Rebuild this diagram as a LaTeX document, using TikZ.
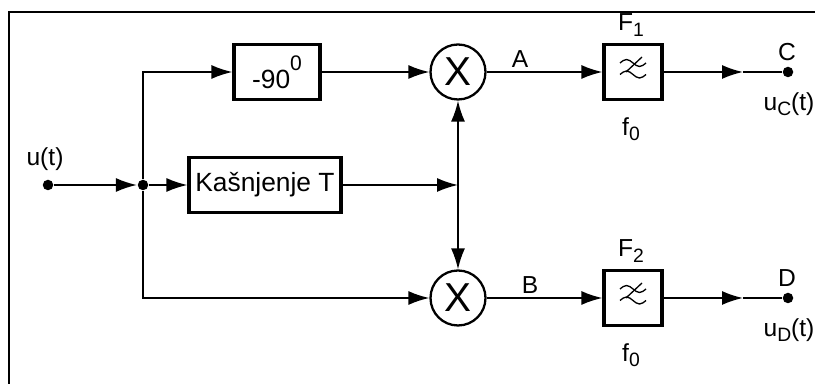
\documentclass[tikz,border=0pt]{standalone}
\usepackage{fontspec}
\setmainfont{Liberation Sans}
\usetikzlibrary{arrows.meta,positioning,calc}

\begin{document}
\begin{tikzpicture}[lbl/.style={inner sep=1pt, font=\fontsize{14}{16}\selectfont}, line width=1pt, >={Latex[length=4.2mm,width=2.8mm]}]
\tikzstyle{blk}=[draw, line width=1.8pt, minimum height=1.1cm, inner sep=2pt, font=\fontsize{15}{17}\selectfont]
\tikzstyle{mlt}=[circle, draw, line width=1.3pt, minimum size=1.1cm, inner sep=0pt, font=\fontsize{23}{25}\selectfont]
\tikzstyle{dot}=[circle, fill, inner sep=0pt, minimum size=0.21cm]
\useasboundingbox (0,0) rectangle (16.3,7.68);
\draw[line width=1.3pt] (0.18,0) -- (0.18,7.44) -- (16.3,7.44);

% input and split point
\node[dot] (in) at (0.96,3.98) {};
\node[lbl] (ut) at (0.9,4.5) {u(t)};
\node[dot] (jn) at (2.86,3.98) {};

% phase shifter, delay, multipliers
\node[blk, minimum width=1.72cm] (ph) at (5.54,6.24) {-90\raisebox{1.3ex}{\fontsize{12}{12}\selectfont 0}};
\node[blk, minimum width=3.04cm] (del) at (5.30,3.98) {Kašnjenje T};
\node[mlt] (m1) at (9.16,6.24) {X};
\node[mlt] (m2) at (9.16,1.72) {X};
\coordinate (tap) at (9.16,3.98);

% low pass filters and outputs
\foreach \k/\y/\o in {1/6.24/C,2/1.72/D}{
\node[blk, minimum width=1.16cm] (f\k) at (12.66,\y) {};
\node[lbl] (fn\k) at (12.62,\y+0.94) {F\raisebox{-0.4ex}{\fontsize{11}{11}\selectfont\k}};
\node[lbl] (fo\k) at (12.62,\y-1.14) {f\raisebox{-0.4ex}{\fontsize{11}{11}\selectfont 0}};
\draw[line width=0.75pt] ($(f\k)+(-0.26,0.18)$) sin ++(0.13,0.07) cos ++(0.13,-0.07) sin ++(0.13,-0.07) cos ++(0.13,0.07);
\draw[line width=0.75pt] ($(f\k)+(-0.26,-0.05)$) sin ++(0.13,0.07) cos ++(0.13,-0.07) sin ++(0.13,-0.07) cos ++(0.13,0.07);
\draw[line width=0.75pt] ($(f\k)+(0.18,0.3)$) -- ($(f\k)+(-0.14,0.0)$);
\node[dot] (o\k) at (15.76,\y) {};
\coordinate (a\k) at (14.86,\y);
\draw[->] (f\k) -- (a\k);
\draw (a\k) -- (o\k);
\node[lbl] (n\k) at (15.74,\y+0.4) {\o};
\node[lbl] (u\k) at (15.78,\y-0.64) {u\raisebox{-0.4ex}{\fontsize{11}{11}\selectfont\o}(t)};
}

\draw[->] (in) -- (jn);
\draw[->] (jn) -- (del);
\draw[->] (jn) |- (ph);
\draw[->] (jn) |- (m2);
\draw[->] (ph) -- (m1);
\draw[->] (del) -- (tap);
\draw[->] (tap) -- (m1);
\draw[->] (tap) -- (m2);
\draw[->] (m1) -- (f1);
\draw[->] (m2) -- (f2);
\node[lbl] (la) at (10.4,6.5) {A};
\node[lbl] (lb) at (10.6,1.98) {B};

\end{tikzpicture}
\end{document}
